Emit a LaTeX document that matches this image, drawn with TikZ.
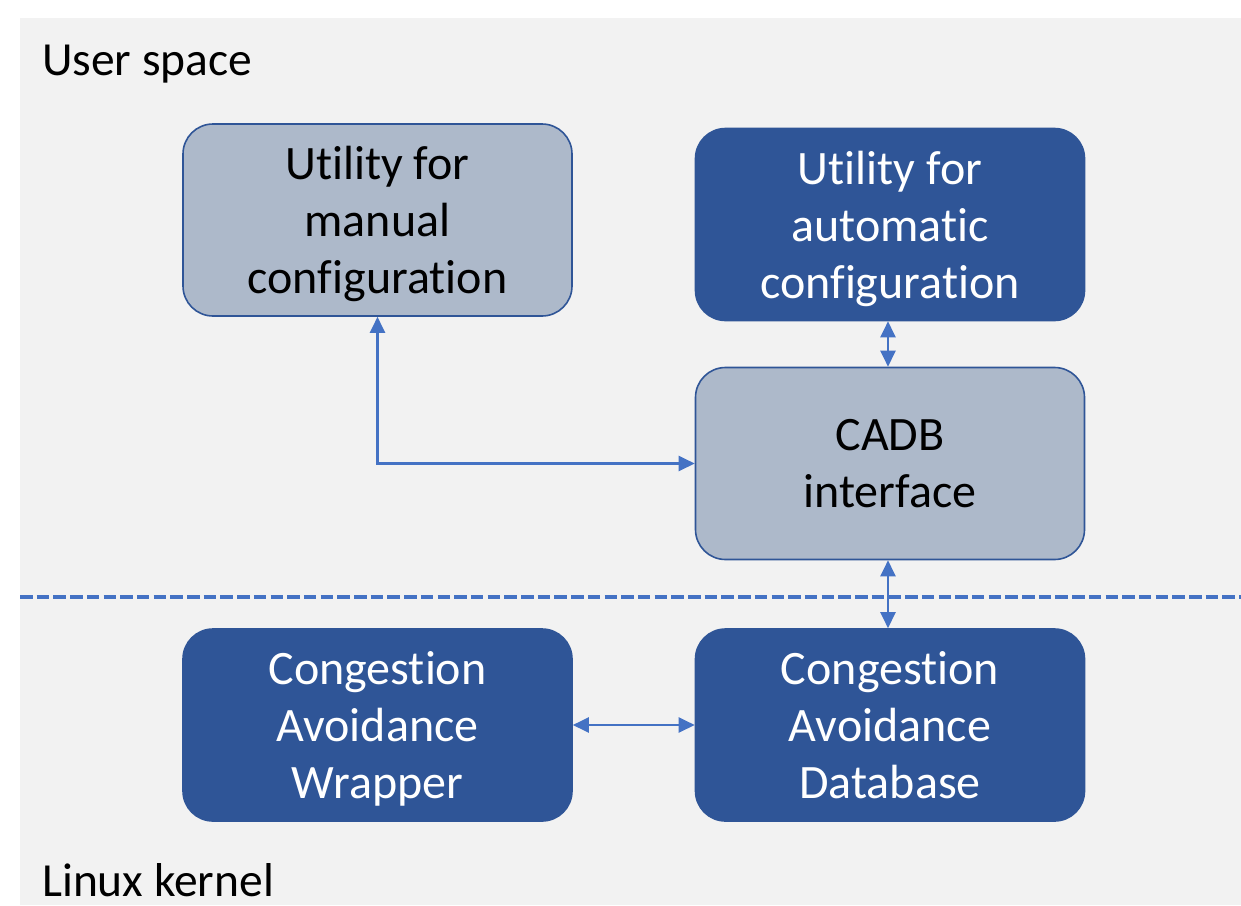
\documentclass[tikz,border=0pt]{standalone}
\usepackage{fontspec}
\setmainfont[RawFeature={-liga;-clig;-calt;-dlig}]{Carlito}
\usetikzlibrary{arrows.meta}
\definecolor{panel}{HTML}{F2F2F2}
\definecolor{darkblue}{HTML}{2F5597}
\definecolor{lightblue}{HTML}{ADB9CA}
\definecolor{linkblue}{HTML}{4472C4}
\tikzset{
  box/.style={rounded corners=30pt, minimum width=389pt, minimum height=192pt,
    line width=1.6pt, align=center, inner sep=0pt, text depth=0pt,
    font=\fontsize{48}{57}\selectfont},
  lightbox/.style={box, draw=darkblue, fill=lightblue, text=black},
  darkbox/.style={box, draw=darkblue, fill=darkblue, text=white},
  link/.style={draw=linkblue, line width=2.2pt,
    {Triangle[length=16pt,width=15pt]}-{Triangle[length=16pt,width=15pt]}},
  label/.style={anchor=base west, inner sep=0pt, font=\fontsize{47.5}{57}\selectfont}
}
\begin{document}
\begin{tikzpicture}[x=1pt,y=-1pt]
  % page frame and panel background
  \useasboundingbox (0,0) rectangle (1241,905);
  \fill[white] (0,0) rectangle (1241,905);
  \fill[panel] (20,18) rectangle (1241,905);

  % region titles
  \node[label] (user) at (42,75) {User space};
  \node[label] (kernel) at (42,896) {Linux kernel};

  % boundary between user space and kernel
  \coordinate (bl) at (20,597);
  \coordinate (br) at (1241,597);
  \draw[linkblue, line width=3.5pt, dash pattern=on 12.5pt off 4.2pt] (bl) -- (br);

  % components
  \node[lightbox] (manual) at (377.5,220) {Utility for\\manual\\configuration};
  \node[darkbox]  (auto)   at (890,224.5) {Utility for\\automatic\\configuration};
  \node[lightbox] (cadb)   at (890,463.5) {CADB\\interface};
  \node[darkbox]  (wrap)   at (377.5,725) {Congestion\\Avoidance\\Wrapper};
  \node[darkbox]  (db)     at (890,725) {Congestion\\Avoidance\\Database};

  % connections
  \draw[link] (manual.south) |- (cadb.west);
  \draw[link] ([xshift=-2pt]auto.south) -- ([xshift=-2pt]cadb.north);
  \draw[link] ([xshift=-2pt]cadb.south) -- ([xshift=-2pt]db.north);
  \draw[link] (wrap.east) -- (db.west);
\end{tikzpicture}
\end{document}
